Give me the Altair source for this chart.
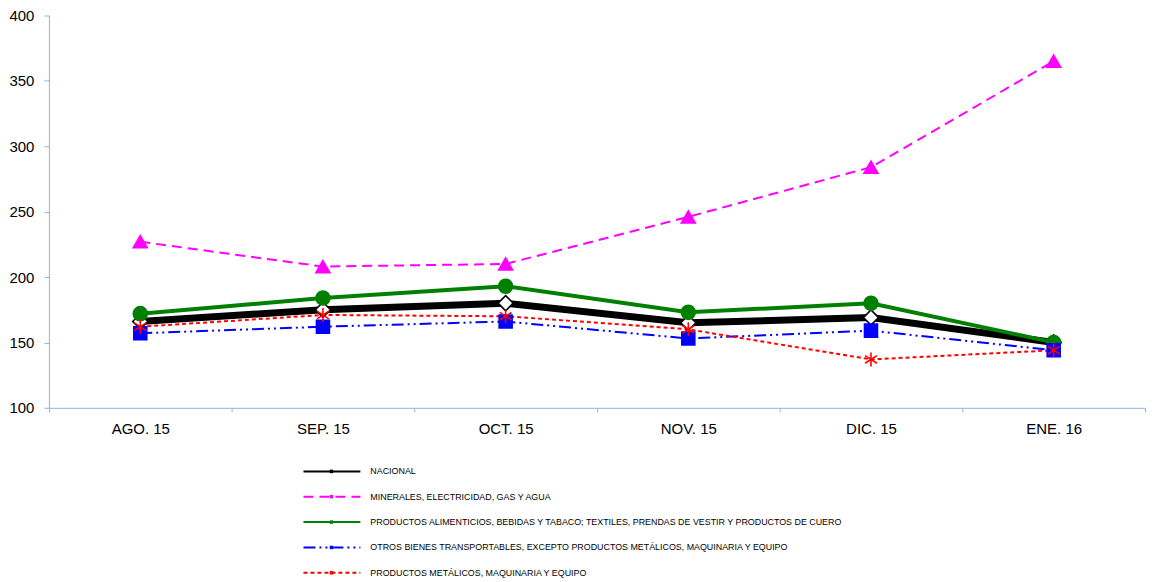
import altair as alt
import pandas as pd

months = ["AGO. 15", "SEP. 15", "OCT. 15", "NOV. 15", "DIC. 15", "ENE. 16"]

series = [
    "NACIONAL",
    "MINERALES, ELECTRICIDAD, GAS Y AGUA",
    "PRODUCTOS ALIMENTICIOS, BEBIDAS Y TABACO; TEXTILES, PRENDAS DE VESTIR Y PRODUCTOS DE CUERO",
    "OTROS BIENES TRANSPORTABLES, EXCEPTO PRODUCTOS METÁLICOS, MAQUINARIA Y EQUIPO",
    "PRODUCTOS METÁLICOS, MAQUINARIA Y EQUIPO",
]

nacional = [166, 175, 180, 165, 169, 150]
minerales = [227, 208, 210, 246, 284, 365]
alimenticios = [172, 184, 193, 173, 180, 150]
otros = [157, 162, 166, 153, 159, 144]
metalicos = [162, 171, 170, 160, 137, 144]

values = [nacional, minerales, alimenticios, otros, metalicos]

colors = ["#000000", "#FF00FF", "#008000", "#0000FF", "#FF0000"]
dashes = [[1, 0], [10, 6], [1, 0], [12, 4, 2, 4, 2, 4], [4, 3]]
shapes = ["diamond", "triangle-up", "circle", "square",
          "M0,-1L0,1M-0.85,-0.55L0.85,0.55M-0.85,0.55L0.85,-0.55"]
fills = ["#FFFFFF", "#FF00FF", "#008000", "#0000FF", None]
sizes = [230, 196, 196, 169, 196]

rows = []
for s, vals in zip(series, values):
    for m, v in zip(months, vals):
        rows.append({"mes": m, "serie": s, "valor": v})
df = pd.DataFrame(rows)
legend_df = pd.DataFrame({"serie": series})

axis_color = "#8DB3E2"
font = "Liberation Sans"
W = 1098

x_enc = alt.X(
    "mes:O",
    sort=months,
    scale=alt.Scale(type="band", paddingInner=0, paddingOuter=0),
    bandPosition=0.5,
    axis=alt.Axis(
        title=None, labelAngle=0, tickBand="extent", tickSize=4,
        tickColor=axis_color, domainColor=axis_color, labelFontSize=15,
        labelFont=font, labelColor="#000000", labelPadding=10, grid=False,
    ),
)
y_enc = alt.Y(
    "valor:Q",
    scale=alt.Scale(domain=[100, 400], nice=False, zero=False),
    axis=alt.Axis(
        title=None, values=[100, 150, 200, 250, 300, 350, 400], tickSize=5,
        tickColor=axis_color, domainColor=axis_color, labelFontSize=15,
        labelFont=font, labelColor="#000000", labelPadding=10, grid=False,
    ),
)

color_scale = alt.Scale(domain=series, range=colors)
dash_scale = alt.Scale(domain=series, range=dashes)

base = alt.Chart(df)

black_thick = base.transform_filter(alt.datum.serie == series[0]).mark_line(
    color="#000000", strokeWidth=7
).encode(x=x_enc, y=y_enc)

thin_lines = base.mark_line(strokeWidth=2).encode(
    x=x_enc, y=y_enc,
    color=alt.Color("serie:N", scale=color_scale, legend=None),
    strokeDash=alt.StrokeDash("serie:N", scale=dash_scale, legend=None),
)

green_thick = base.transform_filter(alt.datum.serie == series[2]).mark_line(
    color="#008000", strokeWidth=4
).encode(x=x_enc, y=y_enc)

point_layers = []
for s, shp, fl, col, sz in zip(series, shapes, fills, colors, sizes):
    kwargs = dict(shape=shp, size=sz, stroke=col, opacity=1, strokeOpacity=1)
    if fl is None:
        kwargs.update(filled=False, strokeWidth=1.6)
    else:
        kwargs.update(filled=True, fill=fl, fillOpacity=1, strokeWidth=1.6)
    point_layers.append(
        base.transform_filter(alt.datum.serie == s).mark_point(**kwargs).encode(x=x_enc, y=y_enc)
    )

main = alt.layer(black_thick, thin_lines, green_thick, *point_layers).properties(
    width=W, height=393
)

# Legend panel
leg_y = alt.Y("serie:N", sort=series, axis=None,
              scale=alt.Scale(type="point", padding=0.5))
leg_base = alt.Chart(legend_df)
leg_lines = leg_base.mark_rule(strokeWidth=2).encode(
    x=alt.value(255), x2=alt.value(312), y=leg_y,
    color=alt.Color("serie:N", scale=color_scale, legend=None),
    strokeDash=alt.StrokeDash("serie:N", scale=dash_scale, legend=None),
)
leg_marks = leg_base.mark_point(filled=True, size=12, shape="square", opacity=1).encode(
    x=alt.value(283), y=leg_y,
    color=alt.Color("serie:N", scale=color_scale, legend=None),
)
leg_text = leg_base.mark_text(
    align="left", baseline="middle", font=font, fontSize=8.9, color="#000000"
).encode(x=alt.value(322), y=leg_y, text="serie:N")

legend_chart = alt.layer(leg_lines, leg_marks, leg_text).properties(width=W, height=127)

chart = alt.vconcat(main, legend_chart, spacing=22).properties(
    padding={"left": 0, "top": 0, "right": 0, "bottom": 0}
).configure(background="#FFFFFF").configure_view(strokeWidth=0, strokeOpacity=0)

chart.save("out.html", embed_options={"renderer": "svg", "actions": False})
